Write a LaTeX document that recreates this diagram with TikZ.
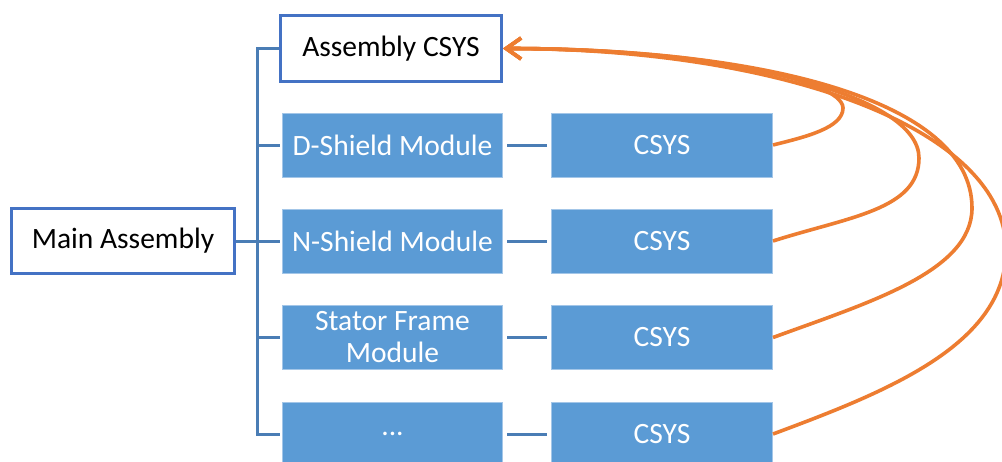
\documentclass[tikz,border=0pt]{standalone}
\usepackage{fontspec}
\setmainfont{Carlito}
\usetikzlibrary{arrows.meta}
\definecolor{outblue}{HTML}{4472C4}
\definecolor{fillblue}{HTML}{5B9BD5}
\definecolor{edgeblue}{HTML}{A3C6E8}
\definecolor{connblue}{HTML}{4A7DB5}
\definecolor{orangec}{HTML}{ED7D31}
\begin{document}
\begin{tikzpicture}[x=1pt,y=-1pt,
  outbox/.style={draw=outblue, line width=3pt, fill=white, inner sep=0pt,
    font=\fontsize{29.5}{32}\selectfont, text=black},
  fillbox/.style={draw=edgeblue, line width=1pt, fill=fillblue, inner sep=0pt,
    minimum height=64pt, font=\fontsize{29.5}{32}\selectfont, text=white, align=center},
  conn/.style={draw=connblue, line width=3pt},
  link/.style={draw=orangec, line width=3.6pt, -{Straight Barb[length=15pt,width=21pt]}}
]
\clip (0,0) rectangle (1002,461);
\fill[white] (0,0) rectangle (1002,461);

% nodes
\node[outbox, minimum width=223pt, minimum height=65pt] (main) at (123,241) {Main Assembly};
\node[outbox, minimum width=221pt, minimum height=66pt] (acsys) at (391,48.5) {Assembly CSYS};

\node[fillbox, minimum width=220pt] (mod1) at (392.5,145) {D-Shield Module};
\node[fillbox, minimum width=220pt] (mod2) at (392.5,241) {N-Shield Module};
\node[fillbox, minimum width=220pt] (mod3) at (392.5,337.5) {Stator Frame\\Module};
\node[fillbox, minimum width=220pt] (mod4) at (392.5,434) {...};

\node[fillbox, minimum width=221pt] (cs1) at (662,145) {CSYS};
\node[fillbox, minimum width=221pt] (cs2) at (662,241) {CSYS};
\node[fillbox, minimum width=221pt] (cs3) at (662,337.5) {CSYS};
\node[fillbox, minimum width=221pt] (cs4) at (662,434) {CSYS};

% tree connectors
\coordinate (bt) at (257,48.5);
\coordinate (bb) at (257,434);
\draw[conn, line join=miter, shorten >=2pt] (acsys.west) -- (bt) -- (bb) -- (mod4.west);
\draw[conn] (main.east) -- (main.east -| bt);
\draw[conn, shorten >=2pt] (mod1.west -| bt) -- (mod1.west);
\draw[conn, shorten >=2pt] (mod2.west -| bt) -- (mod2.west);
\draw[conn, shorten >=2pt] (mod3.west -| bt) -- (mod3.west);

\foreach \i in {1,2,3,4}{
  \draw[conn, shorten <=4pt, shorten >=4pt] (mod\i.east) -- (cs\i.west);
}

% orange links
\coordinate (r1) at (843,108);
\coordinate (r2) at (919,158);
\coordinate (r3) at (972,208);
\coordinate (r4) at (1006,250);

\draw[link] (cs1.east) .. controls (805,137) and (843,128) .. (r1)
  .. controls (843,80) and (700,48.5) .. (acsys.east);
\draw[link] (cs2.east) .. controls (848,217) and (919,210) .. (r2)
  .. controls (919,95) and (733,48.5) .. (acsys.east);
\draw[link] (cs3.east) .. controls (867,303) and (972,272) .. (r3)
  .. controls (972,100) and (762,48.5) .. (acsys.east);
\draw[link] (cs4.east) .. controls (886,392) and (1006,345) .. (r4)
  .. controls (1006,128) and (781,48.5) .. (acsys.east);
\end{tikzpicture}
\end{document}
